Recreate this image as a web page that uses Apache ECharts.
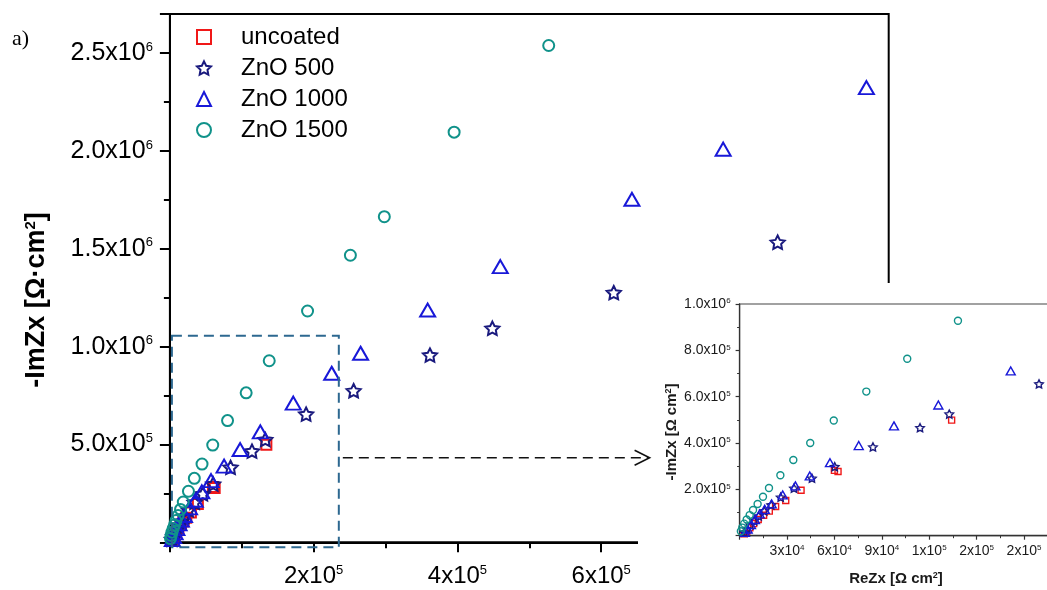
<!DOCTYPE html>
<html><head><meta charset="utf-8">
<script src="https://cdn.jsdelivr.net/npm/echarts@6/dist/echarts.min.js"></script>
<style>html,body{margin:0;padding:0;background:#fff}#c{width:1047px;height:590px}</style>
</head><body><div id="c"></div>
<script>
// ---- data ----
const seriesNames = ['uncoated', 'ZnO 500', 'ZnO 1000', 'ZnO 1500'];
const uncoated = [[134200,499000],[62300,277000],[60000,282000],[38900,196000],[29200,152000],[22800,126000],[18800,106000],[15200,88000],[11800,70000],[8900,52000],[6500,34000],[4500,19000],[2800,8000]];
const zno500 = [[845500,1534000],[617500,1276000],[448600,1094000],[361800,957000],[255600,775000],[189500,655000],[132700,525000],[114200,466000],[84400,383000],[60200,298000],[45800,248000],[34400,205000],[26000,166000],[20000,133000],[15600,107000],[12100,85000],[9200,65000],[6800,46000],[4700,29000],[2900,15000]];
const zno1000 = [[969000,2324000],[769700,2009000],[642800,1753000],[459600,1409000],[358600,1187000],[265300,966000],[225100,864000],[171600,711000],[125800,564000],[97700,474000],[75400,389000],[57200,315000],[44400,258000],[35300,215000],[27300,176000],[20300,137000],[15900,114000],[12700,94000],[9700,70000],[7200,48000],[5100,29000],[3400,14000]];
const zno1500 = [[527000,2539000],[395400,2096000],[298300,1664000],[251100,1467000],[191500,1182000],[138200,928000],[106100,764000],[80200,622000],[59600,497000],[44700,400000],[34000,327000],[25800,261000],[18600,206000],[14800,168000],[11400,137000],[8500,111000],[6400,89000],[4500,70000],[2900,52000],[1700,35000],[800,19000]];

const mainXTickValues = [200000, 400000, 600000];
const mainXTickText = ['2x10^5', '4x10^5', '6x10^5'];
const mainYTickValues = [500000, 1000000, 1500000, 2000000, 2500000];
const mainYTickText = ['5.0x10^5', '1.0x10^6', '1.5x10^6', '2.0x10^6', '2.5x10^6'];
const insetXTickValues = [30000, 60000, 90000, 120000, 150000, 180000];
const insetXTickText = ['3x10^4', '6x10^4', '9x10^4', '1x10^5', '2x10^5', '2x10^5'];
const insetYTickValues = [200000, 400000, 600000, 800000, 1000000];
const insetYTickText = ['2.0x10^5', '4.0x10^5', '6.0x10^5', '8.0x10^5', '1.0x10^6'];
const zoomCorner = [235000, 1056000];
const arrowLevel = 432000;

// ---- styling ----
const FONT = '"Liberation Sans", Arial, sans-serif';
const colors = ['#f01818', '#1a1a7e', '#1818d8', '#10928a'];
const STAR = 'path://M10 0 L12.939 5.955 L19.511 6.910 L14.755 11.545 L15.878 18.090 L10 15 L4.122 18.090 L5.245 11.545 L0.489 6.910 L7.061 5.955 Z';
const symbols = ['rect', STAR, 'triangle', 'circle'];
const mainSizes = [10, 14, [15, 13], 11];
const insetSizes = [6, 8.5, [9, 8], 7];
const datasets = [uncoated, zno500, zno1000, zno1500];

function sup(s) { const p = s.split('^'); return '{n|' + p[0] + '}{s|' + p[1] + '}'; }
function fmt(vals, texts) {
  return function (v) {
    const i = vals.findIndex(t => Math.abs(t - v) < 1);
    return i < 0 ? '' : sup(texts[i]);
  };
}
function richFor(big, small, color) {
  return {
    n: { fontSize: big, fontFamily: FONT, color: color },
    s: { fontSize: small, fontFamily: FONT, color: color, verticalAlign: 'top' }
  };
}

const chart = echarts.init(document.getElementById('c'), null, { renderer: 'canvas' });

const series = [];
datasets.forEach((d, i) => {
  series.push({
    type: 'scatter', name: seriesNames[i], xAxisIndex: 0, yAxisIndex: 0, data: d,
    symbol: symbols[i], symbolSize: mainSizes[i], symbolKeepAspect: true,
    itemStyle: { color: 'rgba(255,255,255,0)', borderColor: colors[i], borderWidth: 2, opacity: 1 },
    emphasis: { disabled: true }, z: 2, animation: false
  });
});
datasets.forEach((d, i) => {
  series.push({
    type: 'scatter', name: seriesNames[i], xAxisIndex: 1, yAxisIndex: 1, data: d,
    symbol: symbols[i], symbolSize: insetSizes[i], symbolKeepAspect: true, clip: true,
    itemStyle: { color: 'rgba(255,255,255,0)', borderColor: colors[i], borderWidth: 1.4, opacity: 1 },
    emphasis: { disabled: true }, z: 12, animation: false
  });
});

const mainAxisCommon = {
  type: 'value', gridIndex: 0, z: 0,
  axisLine: { show: true, onZero: false, lineStyle: { color: '#000', width: 2 } },
  axisTick: { show: true, length: 10, lineStyle: { color: '#000', width: 2 } },
  minorTick: { show: true, splitNumber: 2, length: 6, lineStyle: { color: '#000', width: 2 } },
  splitLine: { show: false }, minorSplitLine: { show: false }
};
const insetAxisCommon = {
  type: 'value', gridIndex: 1, z: 10,
  axisLine: { show: true, onZero: false, lineStyle: { color: '#333', width: 1.3 } },
  axisTick: { show: true, length: 4, lineStyle: { color: '#333', width: 1.2 } },
  minorTick: { show: true, splitNumber: 2, length: 2.5, lineStyle: { color: '#333', width: 1 } },
  splitLine: { show: false }, minorSplitLine: { show: false }
};

const option = {
  backgroundColor: '#fff',
  animation: false,
  textStyle: { fontFamily: FONT },
  grid: [
    { left: 169.9, top: 14, width: 718.8, height: 528.3, show: true, borderColor: '#000', borderWidth: 2,
      backgroundColor: 'rgba(0,0,0,0)', containLabel: false, outerBoundsMode: 'none', z: 0 },
    { left: 739.6, top: 304, width: 331.8, height: 231.7, show: true, borderColor: '#444', borderWidth: 1.2,
      backgroundColor: 'rgba(0,0,0,0)', containLabel: false, outerBoundsMode: 'none', z: 10 }
  ],
  xAxis: [
    Object.assign({}, mainAxisCommon, { min: 0, max: 1000000, interval: 200000,
      axisLabel: { margin: 22, fontSize: 24, color: '#000', formatter: fmt(mainXTickValues, mainXTickText), rich: richFor(24, 13, '#000') } }),
    Object.assign({}, insetAxisCommon, { min: 0, max: 210000, interval: 30000,
      axisLabel: { margin: 8, fontSize: 14, color: '#1a1a1a', formatter: fmt(insetXTickValues, insetXTickText), rich: richFor(14, 8, '#1a1a1a') } })
  ],
  yAxis: [
    Object.assign({}, mainAxisCommon, { min: 0, max: 2700000, interval: 500000,
      axisLabel: { margin: 17, fontSize: 25, color: '#000', formatter: fmt(mainYTickValues, mainYTickText), rich: richFor(25, 13, '#000') } }),
    Object.assign({}, insetAxisCommon, { min: 0, max: 1000000, interval: 200000, gridIndex: 1,
      axisLabel: { margin: 9, fontSize: 14, color: '#1a1a1a', formatter: fmt(insetYTickValues, insetYTickText), rich: richFor(14, 8, '#1a1a1a') } })
  ],
  legend: {
    show: true, orient: 'vertical', left: 196, top: 25, itemWidth: 14, itemHeight: 14, itemGap: 7,
    data: seriesNames, selectedMode: false, z: 20, padding: 0,
    formatter: n => '{t|' + n + '}',
    textStyle: { fontSize: 24, fontFamily: FONT, color: '#000',
      rich: { t: { fontSize: 24, fontFamily: FONT, color: '#000', padding: [0, 0, 0, 25] } } }
  },
  series: series
};
chart.setOption(option);

// annotations built from the axes
const p0 = chart.convertToPixel({ gridIndex: 0 }, [0, 0]);
const p1 = chart.convertToPixel({ gridIndex: 0 }, zoomCorner);
const pa = chart.convertToPixel({ gridIndex: 0 }, [zoomCorner[0], arrowLevel]);
const q0 = chart.convertToPixel({ gridIndex: 1 }, [0, 0]);
const ax0 = pa[0] + 4, ay = pa[1], ax1 = q0[0] - 90;

chart.setOption({
  graphic: [
    { type: 'rect', z: 5, silent: true, shape: { x: 638, y: 283, width: 420, height: 320 },
      style: { fill: '#fff', stroke: null } },
    { type: 'rect', z: 15, silent: true,
      shape: { x: p0[0] + 2, y: p1[1], width: p1[0] - p0[0] - 2, height: p0[1] + 5 - p1[1] },
      style: { fill: 'none', stroke: '#2d6890', lineWidth: 2, lineDash: [10, 6] } },
    { type: 'line', z: 15, silent: true, shape: { x1: ax0, y1: ay, x2: ax1 - 1, y2: ay },
      style: { stroke: '#111', lineWidth: 1.6, lineDash: [10, 6] } },
    { type: 'polyline', z: 15, silent: true,
      shape: { points: [[ax1 - 15, ay - 7.5], [ax1, ay], [ax1 - 15, ay + 7.5]] },
      style: { fill: 'none', stroke: '#111', lineWidth: 1.6 } },
    { type: 'text', z: 20, silent: true, x: 12, y: 39,
      style: { text: 'a)', font: '22px "Liberation Serif", "Times New Roman", serif', fill: '#000', align: 'left', verticalAlign: 'middle' } },
    { type: 'text', z: 20, silent: true, x: 37, y: 300, rotation: Math.PI / 2,
      style: { text: '{b|-ImZx [Ω·cm}{s|2}{b|]}', align: 'center', verticalAlign: 'middle', fill: '#000',
        rich: { b: { fontSize: 27, fontWeight: 'bold', fontFamily: FONT, fill: '#000' },
                s: { fontSize: 15, fontWeight: 'bold', fontFamily: FONT, fill: '#000', verticalAlign: 'top' } } } },
    { type: 'text', z: 20, silent: true, x: 672, y: 432, rotation: Math.PI / 2,
      style: { text: '{b|-ImZx [Ω cm}{s|2}{b|]}', align: 'center', verticalAlign: 'middle', fill: '#1a1a1a',
        rich: { b: { fontSize: 15, fontWeight: 'bold', fontFamily: FONT, fill: '#1a1a1a' },
                s: { fontSize: 9, fontWeight: 'bold', fontFamily: FONT, fill: '#1a1a1a', verticalAlign: 'top' } } } },
    { type: 'text', z: 20, silent: true, x: 896, y: 579,
      style: { text: '{b|ReZx [Ω cm}{s|2}{b|]}', align: 'center', verticalAlign: 'middle', fill: '#1a1a1a',
        rich: { b: { fontSize: 15, fontWeight: 'bold', fontFamily: FONT, fill: '#1a1a1a' },
                s: { fontSize: 9, fontWeight: 'bold', fontFamily: FONT, fill: '#1a1a1a', verticalAlign: 'top' } } } }
  ]
});
</script>
</body></html>
